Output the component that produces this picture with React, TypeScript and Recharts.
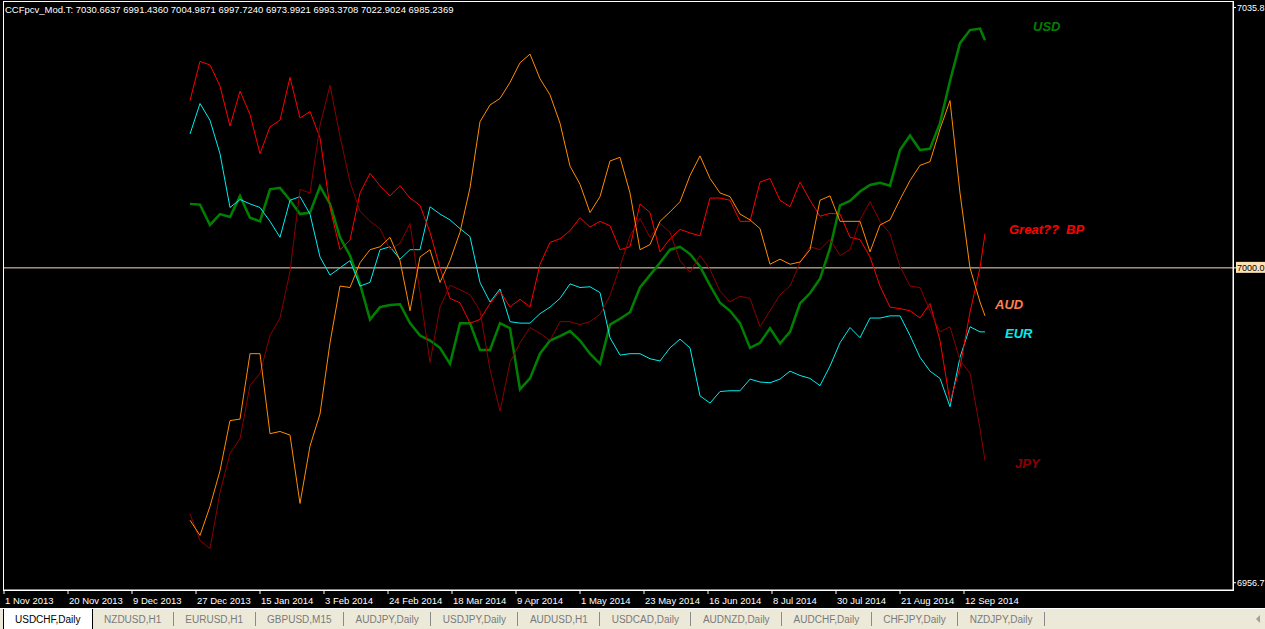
import { LineChart, Line, XAxis, YAxis, ReferenceLine } from "recharts";

// bar number of every sample (4 px per daily bar on the MT4 chart)
const sampleBars = [
  46.5, 49, 51.5, 54, 56.5, 59, 61.5, 64, 66.5, 69, 71.5, 74, 76.5, 79, 81.5, 84, 86.5, 89, 91.5, 94,
  96.5, 99, 101.5, 104, 106.5, 109, 111.5, 114, 116.5, 119, 121.5, 124, 126.5, 129, 131.5, 134, 136.5, 139, 141.5, 144,
  146.5, 149, 151.5, 154, 156.5, 159, 161.5, 164, 166.5, 169, 171.5, 174, 176.5, 179, 181.5, 184, 186.5, 189, 191.5, 194,
  196.5, 199, 201.5, 204, 206.5, 209, 211.5, 214, 216.5, 219, 221.5, 224, 226.5, 229, 231.5, 234, 236.5, 239, 241.5, 244, 245.25,
];

const usd = [
  7008.8, 7008.7, 7005.9, 7007.4, 7007.0, 7009.9, 7006.9, 7006.4, 7010.8, 7011.0, 7009.3, 7007.4, 7007.6, 7011.2, 7008.8, 7004.2, 7001.7, 6997.8, 6992.9, 6994.6,
  6994.9, 6995.0, 6992.4, 6990.7, 6990.0, 6989.0, 6986.8, 6992.4, 6992.4, 6988.7, 6988.7, 6992.4, 6991.7, 6983.3, 6984.8, 6988.2, 6990.0, 6990.6, 6991.3, 6990.0,
  6988.2, 6986.8, 6992.2, 6993.0, 6993.9, 6997.3, 6999.0, 7000.7, 7002.5, 7002.9, 7001.9, 7000.2, 6997.6, 6995.2, 6994.1, 6992.4, 6989.0, 6989.7, 6991.7, 6989.6,
  6991.2, 6995.1, 6996.5, 6998.5, 7002.7, 7008.6, 7009.2, 7010.5, 7011.4, 7011.7, 7011.3, 7016.2, 7018.2, 7016.2, 7016.4, 7019.9, 7025.7, 7030.9, 7032.7, 7032.9, 7031.3,
];

const eur = [
  7018.4, 7022.6, 7020.3, 7015.7, 7008.3, 7009.4, 7008.8, 7008.3, 7006.4, 7004.2, 7009.3, 7009.8, 7007.4, 7001.5, 6999.0, 7000.0, 7001.0, 6997.5, 6998.0, 7002.5,
  7002.9, 7001.2, 7002.5, 7002.5, 7008.4, 7007.4, 7006.6, 7005.4, 7004.3, 6998.0, 6995.3, 6997.1, 6992.6, 6992.4, 6992.4, 6993.7, 6994.6, 6995.8, 6997.8, 6997.3,
  6997.4, 6996.6, 6990.4, 6988.0, 6988.2, 6988.2, 6987.5, 6987.2, 6989.0, 6990.2, 6989.0, 6982.4, 6981.4, 6983.0, 6983.1, 6983.1, 6984.7, 6984.3, 6984.2, 6984.7,
  6985.8, 6985.2, 6984.8, 6983.8, 6986.5, 6989.7, 6991.8, 6990.4, 6993.1, 6993.1, 6993.4, 6993.4, 6990.7, 6987.7, 6985.8, 6984.8, 6980.9, 6987.7, 6991.9, 6991.2, 6991.2,
];

const gbp = [
  7023.0, 7028.4, 7027.9, 7025.0, 7019.5, 7024.3, 7021.1, 7015.7, 7019.4, 7020.3, 7026.2, 7020.6, 7021.5, 7017.9, 7008.3, 7002.5, 7003.8, 7010.3, 7013.0, 7011.3,
  7009.9, 7011.3, 7009.6, 7008.6, 7004.9, 7000.0, 6995.8, 6995.2, 6992.4, 6992.9, 6995.1, 6996.8, 6994.6, 6995.7, 6994.6, 7000.5, 7003.5, 7004.0, 7005.1, 7006.9,
  7005.6, 7006.4, 7005.8, 7002.5, 7002.9, 7008.8, 7007.6, 7002.2, 7004.0, 7005.3, 7004.8, 7004.4, 7009.6, 7009.6, 7009.3, 7006.4, 7006.4, 7011.8, 7012.3, 7009.3,
  7008.4, 7011.8, 7009.3, 7007.1, 7007.5, 7007.4, 7004.2, 7003.9, 7001.5, 6997.5, 6994.6, 6994.4, 6994.1, 6993.1, 6995.1, 6990.0, 6981.6, 6986.3, 6993.9, 7000.0, 7004.7,
];

const jpy = [
  6966.2, 6962.5, 6961.4, 6969.1, 6974.5, 6976.5, 6983.8, 6985.5, 6990.7, 6993.1, 6999.5, 7010.8, 7010.3, 7019.6, 7025.1, 7018.1, 7011.8, 7007.8, 7006.4, 7005.4,
  7002.5, 7003.4, 7006.1, 6996.6, 6987.0, 6994.6, 6997.6, 6997.0, 6996.3, 6994.1, 6986.0, 6980.3, 6987.0, 6989.7, 6991.8, 6991.0, 6990.0, 6992.6, 6992.6, 6992.2,
  6992.6, 6993.6, 6996.2, 7000.2, 7004.4, 7006.8, 7004.2, 7006.1, 7004.9, 7001.0, 6999.4, 7001.7, 6999.8, 6996.8, 6995.3, 6996.1, 6995.8, 6991.9, 6994.1, 6996.3,
  6997.5, 7000.7, 7002.9, 7002.5, 7003.9, 7001.7, 7002.5, 7006.6, 7009.1, 7006.4, 7004.7, 7000.2, 6997.5, 6997.3, 6994.1, 6991.2, 6991.9, 6987.3, 6985.5, 6977.9, 6973.5,
];

const aud = [
  6965.3, 6963.2, 6967.2, 6972.1, 6979.0, 6979.2, 6988.2, 6988.2, 6977.2, 6977.5, 6977.0, 6967.6, 6975.5, 6979.9, 6989.7, 6997.5, 6997.3, 7000.7, 7002.5, 7002.9,
  7004.2, 7001.0, 6994.1, 7001.5, 7002.5, 6998.0, 7001.0, 7004.9, 7011.0, 7020.1, 7022.4, 7023.3, 7025.5, 7028.2, 7029.4, 7026.0, 7023.8, 7019.9, 7014.0, 7011.5,
  7007.6, 7009.8, 7014.7, 7015.2, 7010.3, 7002.5, 7003.2, 7006.4, 7007.7, 7009.1, 7012.7, 7015.4, 7012.3, 7010.3, 7009.8, 7007.4, 7006.6, 7005.4, 7000.5, 7001.2,
  7000.5, 7000.8, 7002.5, 7009.3, 7009.9, 7006.4, 7006.4, 7006.4, 7002.2, 7005.9, 7006.6, 7009.4, 7012.0, 7014.1, 7014.6, 7019.1, 7023.0, 7010.3, 7000.0, 6995.3, 6993.4,
];

const dateTicks = [0, 16, 32, 48, 64, 80, 96, 112, 128, 144, 160, 176, 192, 208, 224, 240];
const dateLabels = [
  "1 Nov 2013", "20 Nov 2013", "9 Dec 2013", "27 Dec 2013", "15 Jan 2014", "3 Feb 2014",
  "24 Feb 2014", "18 Mar 2014", "9 Apr 2014", "1 May 2014", "23 May 2014", "16 Jun 2014",
  "8 Jul 2014", "30 Jul 2014", "21 Aug 2014", "12 Sep 2014",
];
const priceTicks = [6956.7, 7000, 7035.8];
const priceLabels = ["6956.7", "7000.0", "7035.8"];

const headerValues = [
  "7030.6637", "6991.4360", "7004.9871", "6997.7240",
  "6973.9921", "6993.3708", "7022.9024", "6985.2369",
];

const tabs = [
  "USDCHF,Daily", "NZDUSD,H1", "EURUSD,H1", "GBPUSD,M15", "AUDJPY,Daily", "USDJPY,Daily",
  "AUDUSD,H1", "USDCAD,Daily", "AUDNZD,Daily", "AUDCHF,Daily", "CHFJPY,Daily", "NZDJPY,Daily",
];

const data = sampleBars.map((bar, i) => ({
  bar,
  usd: usd[i],
  eur: eur[i],
  gbp: gbp[i],
  jpy: jpy[i],
  aud: aud[i],
}));

const FONT = "'Liberation Sans', Arial, sans-serif";

const DateTick = (props: any) => {
  const { x, y, payload } = props;
  const label = dateLabels[dateTicks.indexOf(payload.value)];
  return (
    <text x={x + 1} y={y + 10} fill="#fff" fontSize={9.5} fontFamily={FONT}>
      {label}
    </text>
  );
};

const PriceTick = (props: any) => {
  const { x, y, payload } = props;
  const label = priceLabels[priceTicks.indexOf(payload.value)];
  const hot = payload.value === 7000;
  return (
    <g>
      {hot && <rect x={x - 1} y={y - 6} width={40} height={11} fill="#fbe1b4" />}
      <text x={x} y={y + 3.5} fill={hot ? "#000" : "#fff"} fontSize={9} fontFamily={FONT}>
        {label}
      </text>
    </g>
  );
};

export default function App() {
  return (
    <div style={{ position: "relative", width: 1265, height: 629, background: "#000", overflow: "hidden" }}>
      <style>{"body{margin:0}"}</style>
      <LineChart width={1265} height={608} data={data} margin={{ top: 1, right: 0, bottom: 0, left: 3 }}>
        <XAxis
          dataKey="bar"
          type="number"
          domain={[-0.25, 307.25]}
          allowDataOverflow
          ticks={dateTicks}
          interval={0}
          height={18}
          tickSize={4}
          tickMargin={0}
          axisLine={{ stroke: "#fff" }}
          tickLine={{ stroke: "#fff" }}
          tick={<DateTick />}
        />
        <YAxis
          orientation="right"
          type="number"
          domain={[6955.7, 7036.7]}
          allowDataOverflow
          ticks={priceTicks}
          interval={0}
          width={32}
          tickSize={3}
          tickMargin={1}
          axisLine={{ stroke: "#fff" }}
          tickLine={{ stroke: "#fff" }}
          tick={<PriceTick />}
        />
        <ReferenceLine y={7000} stroke="#f5dcb4" strokeWidth={1} />
        <Line type="linear" dataKey="usd" stroke="#008000" strokeWidth={2.5} dot={false} isAnimationActive={false} />
        <Line type="linear" dataKey="eur" stroke="#00eef0" strokeWidth={1} dot={false} isAnimationActive={false} />
        <Line type="linear" dataKey="gbp" stroke="#ff0000" strokeWidth={1} dot={false} isAnimationActive={false} />
        <Line type="linear" dataKey="jpy" stroke="#8b0000" strokeWidth={1} dot={false} isAnimationActive={false} />
        <Line type="linear" dataKey="aud" stroke="#ff8c00" strokeWidth={1} dot={false} isAnimationActive={false} />
      </LineChart>

      <svg width={1265} height={608} style={{ position: "absolute", left: 0, top: 0, pointerEvents: "none" }}>
        <rect x={3.5} y={1.5} width={1230} height={589} fill="none" stroke="#fff" strokeWidth={1} />
        <text x={5} y={13} fill="#fff" fontSize={9.5} fontFamily={FONT}>
          {"CCFpcv_Mod.T: " + headerValues.join(" ")}
        </text>
        <g fontFamily={FONT} fontSize={13} fontWeight="bold" fontStyle="italic">
          <text x={1033} y={31} fill="#008000">USD</text>
          <text x={1009} y={234} fill="#ff0000" style={{ whiteSpace: "pre" }}>{"Great??  BP"}</text>
          <text x={995} y={309} fill="#ff7f50">AUD</text>
          <text x={1005} y={338} fill="#00eef0">EUR</text>
          <text x={1015} y={468} fill="#8b0000">JPY</text>
        </g>
      </svg>

      <div
        style={{
          position: "absolute",
          left: 0,
          top: 608,
          width: 1265,
          height: 21,
          background: "#ece9d8",
          borderTop: "1px solid #fff",
          boxSizing: "border-box",
          display: "flex",
          alignItems: "stretch",
          paddingLeft: 3,
          fontFamily: FONT,
          fontSize: 10,
        }}
      >
        {tabs.map((t, i) =>
          i === 0 ? (
            <div
              key={t}
              style={{
                background: "#fff",
                borderLeft: "1px solid #000",
                borderRight: "1px solid #000",
                padding: "0 11px",
                display: "flex",
                alignItems: "center",
                color: "#000",
              }}
            >
              {t}
            </div>
          ) : (
            <div key={t} style={{ display: "flex", alignItems: "center" }}>
              <span style={{ padding: "0 11.5px", color: "#7a7a7a" }}>{t}</span>
              <span style={{ width: 1, height: 14, background: "#8a8a8a" }} />
            </div>
          )
        )}
        <svg width={8} height={8} style={{ position: "absolute", left: 1254, top: 6 }}>
          <polygon points="6,0 6,8 2,4" fill="#a0a0a0" />
        </svg>
      </div>
    </div>
  );
}
